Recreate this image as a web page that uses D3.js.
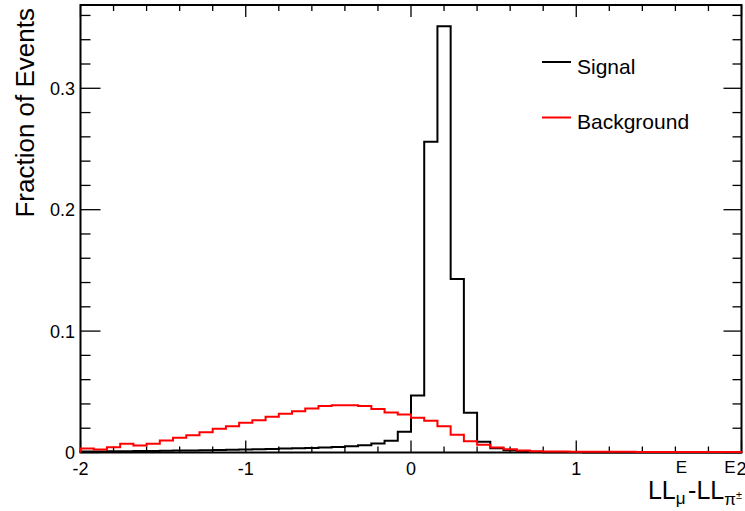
<!DOCTYPE html>
<html><head><meta charset="utf-8">
<script src="https://cdn.jsdelivr.net/npm/d3@7"></script>
<style>
body{margin:0;background:#fff}
svg{display:block}
text{font-family:"Liberation Sans",Arial,Helvetica,sans-serif;fill:#000}
</style>
</head><body>
<svg id="c" width="745" height="511"></svg>
<script>
// ---- data ----
const xMin = -2, xMax = 2, nBins = 50;
const signal = [0.0008,0.0009,0.0010,0.0011,0.0012,0.0013,0.0014,0.0016,0.0017,0.0019,
  0.0021,0.0023,0.0025,0.0027,0.0029,0.0032,0.0035,0.0038,0.0042,0.0046,
  0.0051,0.0060,0.0075,0.0097,0.0170,0.0470,0.2560,0.3510,0.1430,0.0327,
  0.0088,0.0035,0.0018,0.0011,0.0007,0.0003,0.0002,0.0002,0.0001,0.0001,
  0.0001,0.0001,0,0,0,0,0,0,0,0];
const background = [0.0033,0.0025,0.0044,0.0072,0.0058,0.0072,0.0099,0.0121,0.0143,0.0167,
  0.0195,0.0217,0.0245,0.0266,0.0294,0.0319,0.0340,0.0363,0.0382,0.0390,
  0.0390,0.0382,0.0358,0.0330,0.0312,0.0287,0.0262,0.0217,0.0146,0.0093,
  0.0063,0.0041,0.0026,0.0017,0.0011,0.0009,0.0008,0.0007,0.0007,0.0006,
  0.0006,0.0006,0.0005,0.0005,0.0005,0.0005,0.0005,0.0005,0.0005,0.0005];
const xTickLabels = ["-2","-1","0","1","2"];
const xTickValues = [-2,-1,0,1,2];
const yTickLabels = ["0","0.1","0.2","0.3"];
const yTickValues = [0,0.1,0.2,0.3];
const seriesNames = ["Signal","Background"];
const seriesColors = ["#000000","#ff0000"];
const yTitle = "Fraction of Events";

// ---- layout ----
const L = 80.5, R = 741.5, T = 5, B = 452.5;
const yMax = 0.3686;
const svg = d3.select("#c");
const x = d3.scaleLinear().domain([xMin, xMax]).range([L, R]);
const y = d3.scaleLinear().domain([0, yMax]).range([B, T]);

// minor ticks
const xMinor = d3.range(0, 21).map(i => xMin + i * 0.2).filter(v => !xTickValues.some(m => Math.abs(m - v) < 1e-9));
const yMinor = d3.range(0, 19).map(i => i * 0.02).filter(v => v <= yMax && !yTickValues.some(m => Math.abs(m - v) < 1e-9));

const g = svg.append("g");
const tick = (x1,y1,x2,y2) => g.append("line").attr("x1",x1).attr("y1",y1).attr("x2",x2).attr("y2",y2)
  .attr("stroke","#000").attr("stroke-width",1.3);
xTickValues.forEach(v => { tick(x(v),B,x(v),B-12); tick(x(v),T,x(v),T+12); });
xMinor.forEach(v => { tick(x(v),B,x(v),B-6); tick(x(v),T,x(v),T+6); });
yTickValues.forEach(v => { tick(L,y(v),L+20,y(v)); tick(R,y(v),R-18,y(v)); });
yMinor.forEach(v => { tick(L,y(v),L+10,y(v)); tick(R,y(v),R-9,y(v)); });

// frame
svg.append("rect").attr("x",L).attr("y",T).attr("width",R-L).attr("height",B-T)
  .attr("fill","none").attr("stroke","#000").attr("stroke-width",2);

// tick labels
svg.selectAll(".xl").data(xTickValues).enter().append("text")
  .attr("x", d => x(d)).attr("y", 475).attr("text-anchor","middle")
  .style("font-size","18px").text((d,i) => xTickLabels[i]);
svg.selectAll(".yl").data(yTickValues).enter().append("text")
  .attr("x", 75).attr("y", d => y(d) + 6.5).attr("text-anchor","end")
  .style("font-size","18px").text((d,i) => yTickLabels[i]);

// histograms
const bw = (xMax - xMin) / nBins;
function histPoints(vals){
  const pts = [[xMin, 0]];
  vals.forEach((v,i) => { pts.push([xMin + i*bw, v]); pts.push([xMin + (i+1)*bw, v]); });
  pts.push([xMax, 0]);
  return pts;
}
const line = d3.line().x(d => x(d[0])).y(d => y(d[1]));
[signal, background].forEach((vals, i) => {
  svg.append("path").attr("d", line(histPoints(vals))).attr("fill","none")
    .attr("stroke", seriesColors[i]).attr("stroke-width", 2).attr("stroke-linejoin","miter");
});

// legend
const legY = [62, 117.5];
seriesNames.forEach((name, i) => {
  svg.append("line").attr("x1",542).attr("x2",571).attr("y1",legY[i]).attr("y2",legY[i])
    .attr("stroke",seriesColors[i]).attr("stroke-width",2);
  svg.append("text").attr("x",577).attr("y",legY[i]+11.5).style("font-size","21px").text(name);
});

// y title
svg.append("text").attr("transform","translate(34,8) rotate(-90)").attr("text-anchor","end")
  .style("font-size","26px").text(yTitle);

// x title: LL_mu^E - LL_pi^E
const base = 499;
const big = 25, small = 17, tiny = 11;
function measure(str, size){
  const t = svg.append("text").style("font-size", size+"px").text(str);
  const w = t.node().getComputedTextLength(); t.remove(); return w;
}
const parts = [
  {type:"txt", s:"LL"},
  {type:"supsub", sup:"E", sub:[["μ",small,5]]},
  {type:"txt", s:"-"},
  {type:"txt", s:"LL"},
  {type:"supsub", sup:"E", sub:[["π",small,6],["±",tiny,0]]}
];
let widths = parts.map(p => {
  if (p.type === "txt") return measure(p.s, big);
  const ws = measure(p.sup, small);
  const wsub = p.sub.reduce((a,s) => a + measure(s[0], s[1]), 0);
  return Math.max(ws, wsub) + 1;
});
const total = d3.sum(widths);
let cx = 743 - total;
parts.forEach((p, i) => {
  if (p.type === "txt") {
    svg.append("text").attr("x",cx).attr("y",base).style("font-size",big+"px").text(p.s);
  } else {
    svg.append("text").attr("x",cx).attr("y",base-26).style("font-size",small+"px").text(p.sup);
    let sx = cx;
    p.sub.forEach(s => {
      svg.append("text").attr("x",sx).attr("y",base + s[2]).style("font-size",s[1]+"px").text(s[0]);
      sx += measure(s[0], s[1]);
    });
  }
  cx += widths[i];
});
</script>
</body></html>
